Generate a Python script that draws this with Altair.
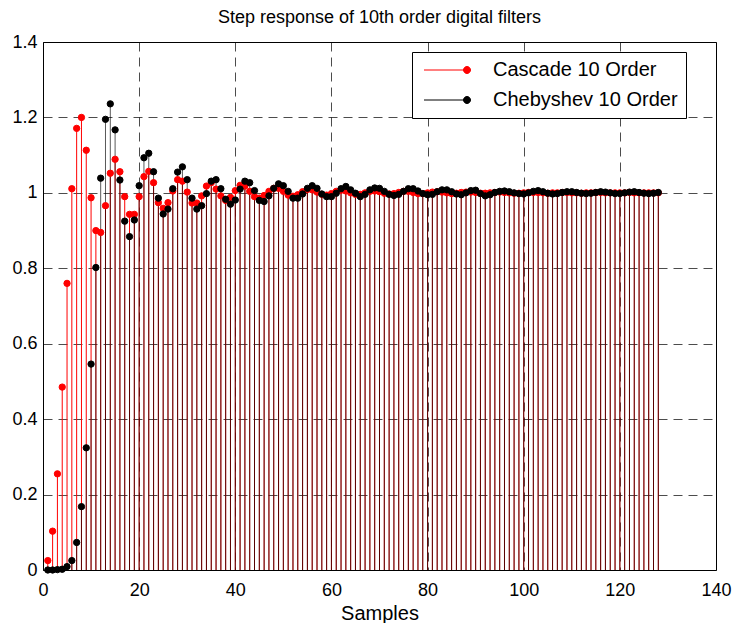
import altair as alt
import pandas as pd

samples = list(range(1, 129))

cascade = [
    0.025, 0.103, 0.255, 0.485, 0.760, 1.011, 1.171, 1.200, 1.113, 0.987,
    0.900, 0.895, 0.966, 1.052, 1.089, 1.056, 0.990, 0.943, 0.943, 0.990,
    1.043, 1.057, 1.027, 0.974, 0.959, 0.974, 1.005, 1.035, 1.031, 1.002,
    0.973, 0.973, 0.992, 1.018, 1.027, 1.010, 0.992, 0.980, 0.988, 1.006,
    1.020, 1.018, 1.004, 0.990, 0.986, 0.993, 1.004, 1.012, 1.012, 1.004,
    0.994, 0.991, 0.995, 1.003, 1.009, 1.008, 1.002, 0.996, 0.994, 0.998,
    1.004, 1.007, 1.005, 1.000, 0.996, 0.996, 1.000, 1.004, 1.005, 1.003,
    0.999, 0.997, 0.998, 1.001, 1.004, 1.004, 1.001, 0.998, 0.998, 1.000,
    1.002, 1.003, 1.002, 1.000, 0.998, 0.999, 1.001, 1.002, 1.002, 1.001,
    0.999, 0.999, 1.000, 1.001, 1.002, 1.001, 1.000, 0.999, 0.999, 1.000,
    1.001, 1.001, 1.001, 1.000, 0.999, 1.000, 1.000, 1.001, 1.001, 1.000,
    1.000, 0.999, 1.000, 1.000, 1.001, 1.001, 1.000, 1.000, 1.000, 1.000,
    1.000, 1.001, 1.000, 1.000, 1.000, 1.000, 1.000, 1.000,
]

chebyshev = [
    0.000, 0.000, 0.001, 0.002, 0.009, 0.025, 0.073, 0.168, 0.324, 0.546,
    0.802, 1.039, 1.195, 1.236, 1.167, 1.034, 0.925, 0.884, 0.928, 1.019,
    1.093, 1.105, 1.056, 0.986, 0.944, 0.957, 1.011, 1.055, 1.069, 1.035,
    0.986, 0.957, 0.966, 0.998, 1.031, 1.035, 1.011, 0.983, 0.970, 0.981,
    1.010, 1.031, 1.027, 1.006, 0.980, 0.977, 0.992, 1.012, 1.024, 1.019,
    1.004, 0.986, 0.986, 0.997, 1.012, 1.019, 1.012, 0.997, 0.990, 0.990,
    0.999, 1.011, 1.017, 1.008, 0.999, 0.990, 0.996, 1.008, 1.013, 1.012,
    1.004, 0.996, 0.993, 0.996, 1.004, 1.011, 1.011, 1.005, 0.998, 0.995,
    0.996, 1.003, 1.008, 1.008, 1.003, 0.997, 0.995, 1.000, 1.006, 1.007,
    0.998, 0.992, 0.995, 1.001, 1.004, 1.005, 1.003, 1.000, 0.998, 0.997,
    1.000, 1.004, 1.006, 1.003, 0.999, 0.997, 0.998, 1.001, 1.003, 1.003,
    1.001, 0.999, 0.998, 0.999, 1.001, 1.003, 1.002, 1.000, 0.998, 0.998,
    1.000, 1.002, 1.003, 1.001, 0.999, 0.998, 0.999, 1.001,
]

series_names = ["Cascade 10 Order", "Chebyshev 10 Order"]
series_colors = ["#ff0000", "#000000"]
x_ticks = [0, 20, 40, 60, 80, 100, 120, 140]
y_ticks = [0, 0.2, 0.4, 0.6, 0.8, 1.0, 1.2, 1.4]

df = pd.DataFrame({
    "n": samples + samples,
    "value": cascade + chebyshev,
    "series": [series_names[0]] * len(samples) + [series_names[1]] * len(samples),
})

FONT = "Liberation Sans"

x_enc = alt.X("n:Q", scale=alt.Scale(domain=[0, 140], nice=False, zero=False),
              axis=alt.Axis(values=x_ticks, title="Samples", format="d"))
y_enc = alt.Y("value:Q", scale=alt.Scale(domain=[0, 1.4], nice=False),
              axis=alt.Axis(values=y_ticks, title=None, format="~g"))

base = alt.Chart(df)

stem_red = base.transform_filter(alt.datum.series == series_names[0]).mark_rule(
    color=series_colors[0], strokeWidth=1
).encode(x=x_enc, y=y_enc, y2=alt.datum(0))

stem_black = base.transform_filter(alt.datum.series == series_names[1]).mark_rule(
    color=series_colors[1], strokeWidth=1, opacity=0.65
).encode(x=x_enc, y=y_enc, y2=alt.datum(0))

legend_shape = "M-8.6,0L0,0M-0.7,0A0.7,0.7 0 1,0 0.7,0A0.7,0.7 0 1,0 -0.7,0"
color_scale = alt.Scale(domain=series_names, range=series_colors)
legend = alt.Legend(
    title=None, orient="none", legendX=369, legendY=10,
    symbolType=legend_shape, symbolSize=100, symbolStrokeWidth=1, symbolOpacity=1,
    symbolOffset=37,
    labelFont=FONT, labelFontSize=20, labelColor="black", labelOffset=16,
    labelLimit=400,
    padding=8, rowPadding=10, strokeColor="black", fillColor="white",
    cornerRadius=0,
)

dots = base.mark_point(filled=True, size=40, opacity=1, strokeWidth=1).encode(
    x=x_enc, y=y_enc,
    fill=alt.Fill("series:N", scale=color_scale, legend=legend, sort=series_names),
    stroke=alt.Stroke("series:N", scale=color_scale, legend=legend, sort=series_names),
)

chart = alt.layer(stem_red, stem_black, dots).properties(
    width=673, height=528,
    title=alt.Title("Step response of 10th order digital filters", font=FONT,
                    fontSize=18, fontWeight="normal", color="black", offset=6,
                    anchor="middle"),
    autosize=alt.AutoSizeParams(type="none"),
    padding={"left": 43, "top": 42, "right": 18, "bottom": 53},
).configure_axis(
    labelFont=FONT, labelFontSize=18, labelColor="black",
    titleFont=FONT, titleFontSize=20, titleFontWeight="normal", titleColor="black",
    domain=False, ticks=False, grid=True, gridColor="black", gridDash=[9, 6],
    gridOpacity=0.7, gridWidth=1, labelFlush=False,
).configure_axisX(labelPadding=11, titlePadding=4).configure_axisY(
    labelPadding=6
).configure_view(stroke="black", strokeWidth=1)

chart.save("out.html", embed_options={"renderer": "svg", "actions": False})
